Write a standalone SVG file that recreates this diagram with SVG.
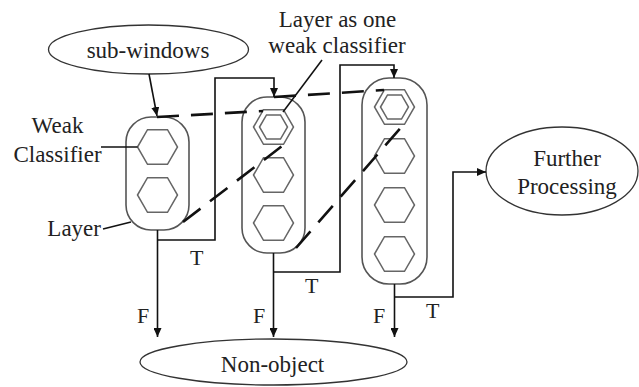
<svg xmlns="http://www.w3.org/2000/svg" width="639" height="387" viewBox="0 0 639 387">
<style>
.lbl{font-size:23px;fill:#222;}
.tf{font-size:22px;fill:#222;}
.ell{fill:none;stroke:#333;stroke-width:1.3;}
.box{fill:none;stroke:#555;stroke-width:1.6;}
.hex{fill:none;stroke:#666;stroke-width:1.5;}
.ln{fill:none;stroke:#111;stroke-width:1.6;}
.arr{fill:none;stroke:#111;stroke-width:1.6;marker-end:url(#ah);}
.dash{fill:none;stroke:#111;stroke-width:2.6;stroke-dasharray:22 12;}
</style>
<defs>
<marker id="ah" markerUnits="userSpaceOnUse" markerWidth="10" markerHeight="8" refX="9" refY="4" orient="auto">
<path d="M0,0 L9,4 L0,8 z" fill="#111"/>
</marker>
<path id="hx" d="M-20,0 L-10,-17.3 L10,-17.3 L20,0 L10,17.3 L-10,17.3 Z"/>
<path id="hxi" d="M-14,0 L-7,-12.1 L7,-12.1 L14,0 L7,12.1 L-7,12.1 Z"/>
</defs>
<rect width="639" height="387" fill="#fff"/>
<g font-family="Liberation Serif, Tinos, Times New Roman, Noto Serif, DejaVu Serif, serif">

<g id="sub-windows">
<ellipse class="ell" cx="148.5" cy="49.5" rx="100" ry="24.5"/>
<text class="lbl" x="148" y="58" text-anchor="middle">sub-windows</text>
</g>

<g id="layer1">
<rect class="box" x="126" y="117" width="63" height="113" rx="25"/>
<use href="#hx" class="hex" transform="translate(157.5,147)"/>
<use href="#hx" class="hex" transform="translate(157.5,195)"/>
</g>

<g id="layer2">
<rect class="box" x="242" y="97" width="63" height="156" rx="25"/>
<use href="#hx" class="hex" transform="translate(273.5,127)"/>
<use href="#hxi" class="hex" transform="translate(273.5,127)"/>
<use href="#hx" class="hex" transform="translate(273.5,175)"/>
<use href="#hx" class="hex" transform="translate(273.5,223)"/>
</g>

<g id="layer3">
<rect class="box" x="362" y="78" width="65" height="206" rx="27"/>
<use href="#hx" class="hex" transform="translate(394.5,107)"/>
<use href="#hxi" class="hex" transform="translate(394.5,107)"/>
<use href="#hx" class="hex" transform="translate(394.5,156)"/>
<use href="#hx" class="hex" transform="translate(394.5,205)"/>
<use href="#hx" class="hex" transform="translate(394.5,254)"/>
</g>

<g id="further-processing">
<ellipse class="ell" cx="562" cy="171" rx="76" ry="44"/>
<text class="lbl" x="567" y="166" text-anchor="middle">Further</text>
<text class="lbl" x="567" y="194" text-anchor="middle">Processing</text>
</g>

<g id="non-object">
<ellipse class="ell" cx="273.5" cy="362" rx="133.5" ry="23"/>
<text class="lbl" x="272.5" y="372" text-anchor="middle">Non-object</text>
</g>

<g id="labels">
<text class="lbl" x="57.5" y="133" text-anchor="middle">Weak</text>
<text class="lbl" x="57.5" y="162" text-anchor="middle">Classifier</text>
<text class="lbl" x="101" y="236" text-anchor="end">Layer</text>
<text class="lbl" x="337.5" y="27" text-anchor="middle">Layer as one</text>
<text class="lbl" x="337" y="53" text-anchor="middle">weak classifier</text>
<text class="tf" x="137" y="323">F</text>
<text class="tf" x="253" y="323">F</text>
<text class="tf" x="373" y="323">F</text>
<text class="tf" x="190" y="265">T</text>
<text class="tf" x="305" y="293">T</text>
<text class="tf" x="426" y="318">T</text>
</g>
</g>

<g id="connectors">
<path class="arr" d="M149,74 L157,116"/>
<path class="arr" d="M157.5,230 V337"/>
<path class="arr" d="M157.5,240 H215 V78 H274 V97"/>
<path class="arr" d="M273.5,253 V337"/>
<path class="arr" d="M273.5,272 H340 V65 H394 V78"/>
<path class="arr" d="M394.5,284 V337"/>
<path class="arr" d="M394.5,297 H453 V172 H486"/>
<path class="dash" d="M157,117 L263,111"/>
<path class="dash" d="M183,222 L286,143"/>
<path class="dash" d="M274,97 L384,90"/>
<path class="dash" d="M296,248 L404,124"/>
<path class="ln" d="M101,147 H137.5"/>
<path class="ln" d="M103,229 L131,222"/>
<path class="ln" d="M322,60 L283,112"/>
</g>
</svg>
